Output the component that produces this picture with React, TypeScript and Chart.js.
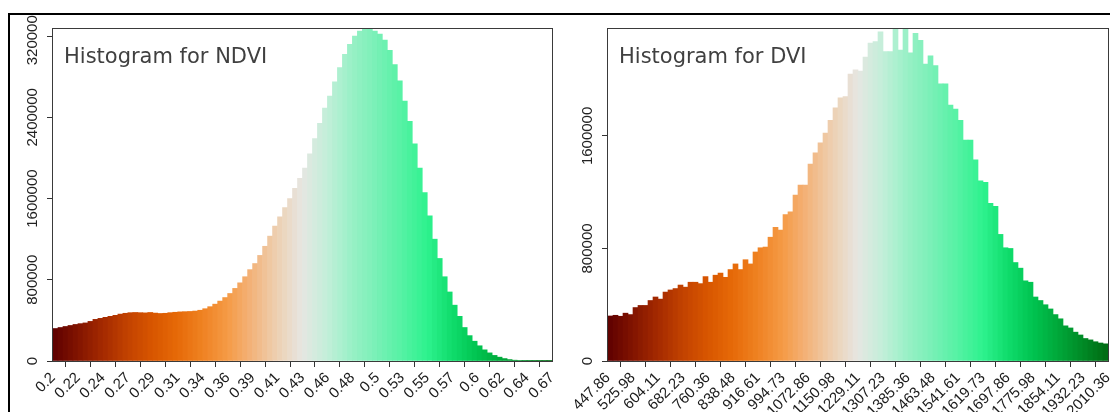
import React, { useEffect, useRef } from 'react';
import { Chart, registerables } from 'chart.js';

Chart.register(...registerables);

// ---------- data ----------
const ndviTickLabels = ['0.2', '0.22', '0.24', '0.27', '0.29', '0.31', '0.34', '0.36', '0.39', '0.41', '0.43', '0.46', '0.48', '0.5', '0.53', '0.55', '0.57', '0.6', '0.62', '0.64', '0.67'];
const dviTickLabels = ['447.86', '525.98', '604.11', '682.23', '760.36', '838.48', '916.61', '994.73', '1072.86', '1150.98', '1229.11', '1307.23', '1385.36', '1463.48', '1541.61', '1619.73', '1697.86', '1775.98', '1854.11', '1932.23', '2010.36'];

const ndviCounts = [
  320000, 330000, 340000, 350000, 360000, 368000, 375000, 390000, 410000, 420000,
  430000, 440000, 450000, 462000, 470000, 476000, 478000, 476000, 474000, 478000,
  472000, 468000, 470000, 476000, 480000, 484000, 486000, 488000, 492000, 500000,
  515000, 535000, 560000, 590000, 625000, 665000, 715000, 770000, 830000, 900000,
  960000, 1040000, 1130000, 1230000, 1330000, 1420000, 1510000, 1600000, 1700000, 1800000,
  1900000, 2040000, 2190000, 2340000, 2490000, 2610000, 2750000, 2890000, 3020000, 3120000,
  3200000, 3250000, 3270000, 3270000, 3250000, 3220000, 3160000, 3060000, 2920000, 2760000,
  2560000, 2360000, 2140000, 1900000, 1660000, 1430000, 1200000, 1010000, 830000, 680000,
  550000, 440000, 330000, 250000, 195000, 150000, 110000, 80000, 55000, 38000,
  24000, 14000, 8000, 4000, 2000, 1000, 500, 300, 200, 100,
];

const dviCounts = [
  320000, 325000, 318000, 340000, 330000, 380000, 395000, 395000, 430000, 455000,
  440000, 490000, 505000, 515000, 540000, 525000, 560000, 560000, 550000, 600000,
  560000, 610000, 625000, 595000, 650000, 690000, 650000, 720000, 690000, 775000,
  805000, 810000, 880000, 950000, 930000, 1040000, 1060000, 1180000, 1250000, 1250000,
  1400000, 1480000, 1550000, 1620000, 1710000, 1800000, 1870000, 1880000, 2040000, 2070000,
  2060000, 2160000, 2260000, 2270000, 2340000, 2200000, 2200000, 2370000, 2210000, 2360000,
  2190000, 2330000, 2280000, 2110000, 2170000, 2100000, 1970000, 1970000, 1820000, 1790000,
  1710000, 1570000, 1570000, 1430000, 1280000, 1270000, 1120000, 1100000, 900000, 805000,
  800000, 700000, 660000, 570000, 560000, 455000, 430000, 400000, 370000, 330000,
  300000, 250000, 235000, 205000, 185000, 160000, 150000, 137000, 128000, 122000,
];

const ndviYTicks = [0, 800000, 1600000, 2400000, 3200000];
const dviYTicks = [0, 800000, 1600000];

// ---------- styles ----------
const RAMP: [number, string][] = [
  [0, '#5e0000'], [0.05, '#821400'], [0.1, '#a42a00'], [0.15, '#c24200'], [0.2, '#d85600'],
  [0.25, '#e66a08'], [0.3, '#ef8222'], [0.35, '#f59a46'], [0.4, '#f3b47c'], [0.45, '#edd0b2'],
  [0.5, '#e6e6e2'], [0.55, '#c2efd9'], [0.6, '#98f0c6'], [0.65, '#78f0b6'], [0.7, '#55f2a4'],
  [0.75, '#2ef28e'], [0.8, '#10dc6c'], [0.85, '#00c450'], [0.9, '#00a83a'], [0.95, '#008a26'],
  [1, '#006a12'],
];

function hexToRgb(h: string) {
  return [parseInt(h.slice(1, 3), 16), parseInt(h.slice(3, 5), 16), parseInt(h.slice(5, 7), 16)];
}

function rampColor(t: number) {
  for (let k = 0; k < RAMP.length - 1; k++) {
    const [t0, c0] = RAMP[k];
    const [t1, c1] = RAMP[k + 1];
    if (t >= t0 && t <= t1) {
      const f = (t - t0) / (t1 - t0);
      const a = hexToRgb(c0);
      const b = hexToRgb(c1);
      const c = a.map((v, j) => Math.round(v + (b[j] - v) * f));
      return `rgb(${c[0]},${c[1]},${c[2]})`;
    }
  }
  return RAMP[RAMP.length - 1][1];
}

type HistProps = {
  left: number;
  width: number;
  counts: number[];
  tickLabels: string[];
  yTicks: number[];
  yMax: number;
  title: string;
  yWidth: number;
  padRight: number;
};

function HistChart(p: HistProps) {
  const ref = useRef<HTMLCanvasElement>(null);

  useEffect(() => {
    if (!ref.current) return;
    const binsPerTick = p.counts.length / (p.tickLabels.length - 1);

    const decor = {
      id: 'decor',
      afterDraw(chart: any) {
        const { ctx, chartArea: a, scales } = chart;
        ctx.save();
        ctx.strokeStyle = '#3a3a3a';
        ctx.lineWidth = 1;
        ctx.strokeRect(a.left - 0.5, a.top - 0.5, a.right - a.left + 1, a.bottom - a.top + 1);

        ctx.fillStyle = '#404040';
        ctx.font = '21px "DejaVu Sans"';
        ctx.textAlign = 'left';
        ctx.textBaseline = 'alphabetic';
        ctx.fillText(p.title, a.left + 11, a.top + 34);

        ctx.fillStyle = '#222';
        ctx.font = '15px "Liberation Sans"';
        ctx.textAlign = 'center';
        ctx.textBaseline = 'middle';
        for (const v of p.yTicks) {
          const py = scales.y.getPixelForValue(v);
          ctx.save();
          ctx.translate(a.left - 20, py);
          ctx.rotate(-Math.PI / 2);
          ctx.fillText(String(v), 0, 0);
          ctx.restore();
        }
        ctx.restore();
      },
    };

    const chart = new Chart(ref.current, {
      type: 'bar',
      data: {
        datasets: [
          {
            data: p.counts.map((v, i) => ({ x: i + 0.5, y: v })),
            backgroundColor: p.counts.map((_, i) => rampColor((i + 0.5) / p.counts.length)),
            borderWidth: 0,
            barPercentage: 1,
            categoryPercentage: 1,
            grouped: false,
          } as any,
        ],
      },
      options: {
        animation: false,
        responsive: false,
        events: [],
        layout: { padding: { top: 29, right: p.padRight, left: 0, bottom: 0 } },
        plugins: {
          legend: { display: false },
          tooltip: { enabled: false },
          title: { display: false },
        },
        scales: {
          x: {
            type: 'linear',
            min: 0,
            max: p.counts.length,
            offset: false,
            afterBuildTicks: (s: any) => {
              s.ticks = p.tickLabels.map((_, k) => ({ value: k * binsPerTick }));
            },
            afterFit: (s: any) => {
              s.height = 51;
              s.paddingLeft = 0;
              s.paddingRight = 0;
            },
            ticks: {
              autoSkip: false,
              minRotation: 45,
              maxRotation: 45,
              padding: 2,
              color: '#1a1a1a',
              font: { family: 'Liberation Sans', size: 15 },
              callback: (_v: any, i: number) => p.tickLabels[i],
            },
            grid: { drawOnChartArea: false, drawTicks: true, tickLength: 6, color: '#333' },
            border: { display: false },
          },
          y: {
            type: 'linear',
            min: 0,
            max: p.yMax,
            afterBuildTicks: (s: any) => {
              s.ticks = p.yTicks.map((v) => ({ value: v }));
            },
            afterFit: (s: any) => {
              s.width = p.yWidth;
              s.paddingTop = 0;
              s.paddingBottom = 0;
            },
            ticks: { display: false },
            grid: { drawOnChartArea: false, drawTicks: true, tickLength: 6, color: '#333' },
            border: { display: false },
          },
        } as any,
      },
      plugins: [decor],
    });
    return () => chart.destroy();
  }, []);

  return (
    <canvas
      ref={ref}
      width={p.width}
      height={412}
      style={{ position: 'absolute', left: p.left, top: 0, width: p.width, height: 412 }}
    />
  );
}

export default function App() {
  return (
    <div style={{ position: 'absolute', left: 0, top: 0, width: 1110, height: 412, overflow: 'hidden', background: '#fff' }}>
      <HistChart
        left={0}
        width={560}
        counts={ndviCounts}
        tickLabels={ndviTickLabels}
        yTicks={ndviYTicks}
        yMax={3270000}
        title="Histogram for NDVI"
        yWidth={53}
        padRight={8}
      />
      <HistChart
        left={560}
        width={550}
        counts={dviCounts}
        tickLabels={dviTickLabels}
        yTicks={dviYTicks}
        yMax={2360000}
        title="Histogram for DVI"
        yWidth={48}
        padRight={2}
      />
      <div style={{ position: 'absolute', left: 0, top: 0, width: 1110, height: 13, background: '#fff' }} />
      <div
        style={{
          position: 'absolute',
          left: 8,
          top: 13,
          width: 1110,
          height: 420,
          borderTop: '2px solid #000',
          borderLeft: '2px solid #000',
        }}
      />
    </div>
  );
}
